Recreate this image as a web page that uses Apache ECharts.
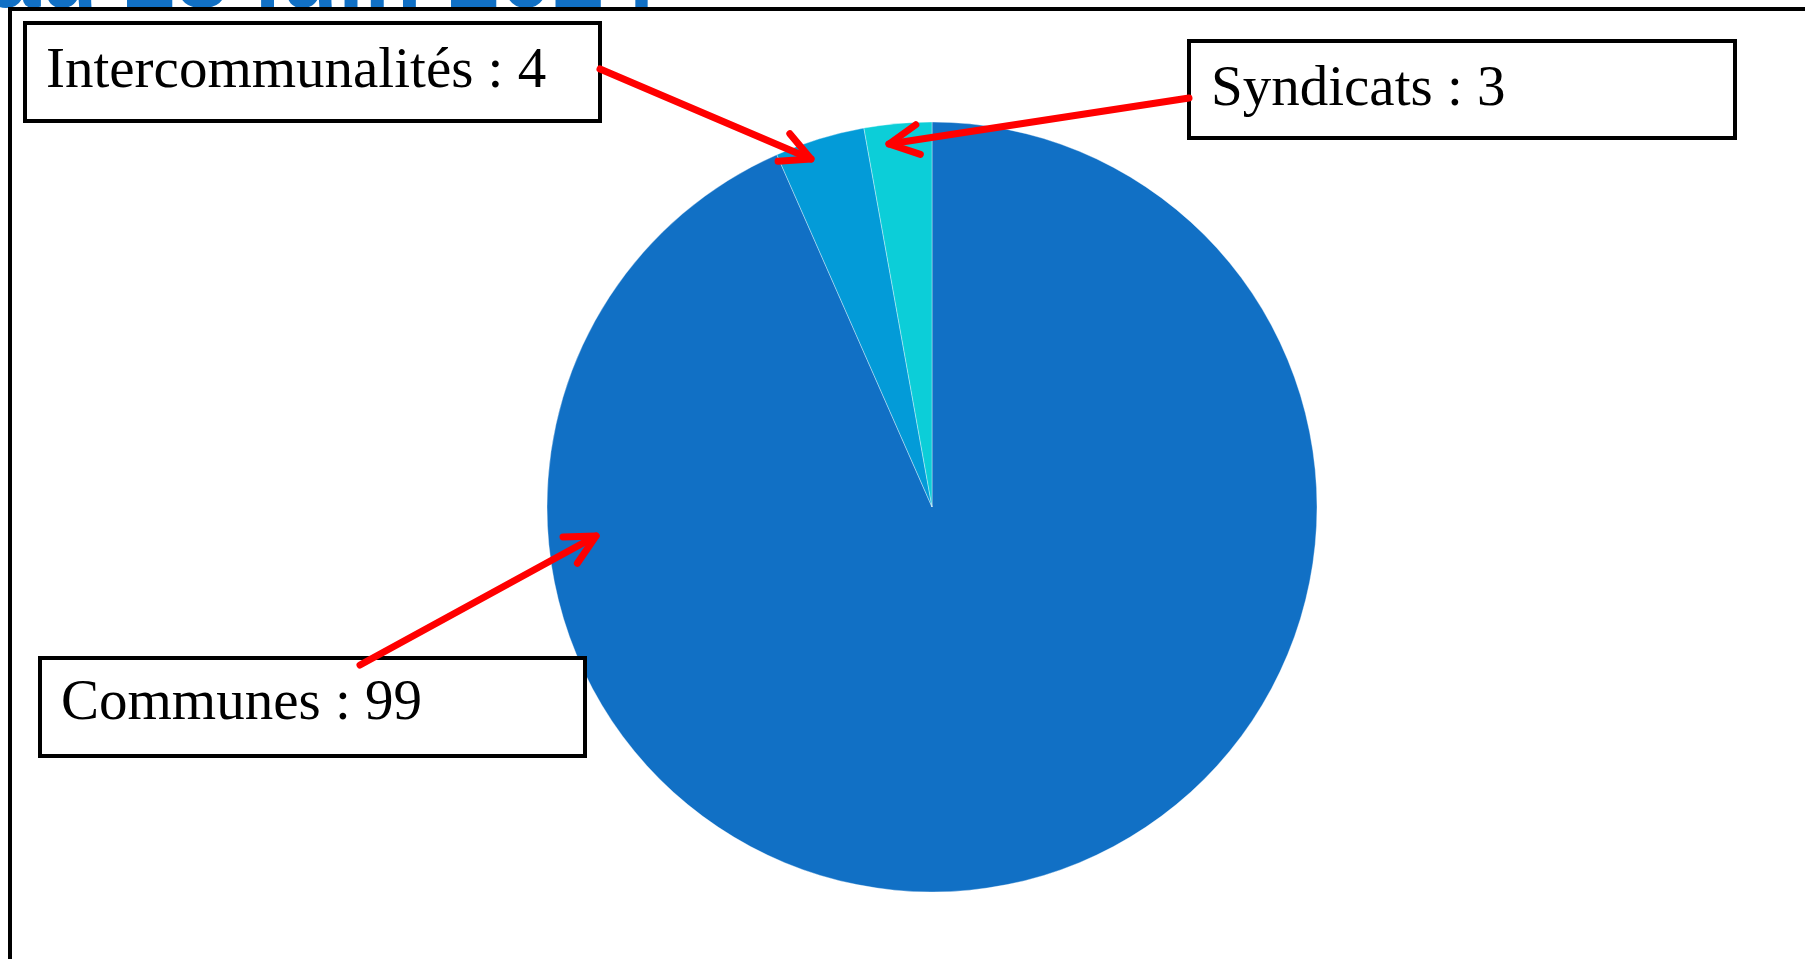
<!DOCTYPE html>
<html>
<head>
<meta charset="utf-8">
<script src="https://cdn.jsdelivr.net/npm/echarts@6/dist/echarts.min.js"></script>
<style>
html,body{margin:0;padding:0;background:#fff;}
#chart{width:1805px;height:959px;}
</style>
</head>
<body>
<div id="chart"></div>
<script>
// ---- data ----
const categories = ['Communes', 'Intercommunalités', 'Syndicats'];
const values = [99, 4, 3];
const sliceColors = ['#1170C5', '#039BD8', '#0CCED8'];
const titleText = 'au 28 juin 2024';

const chart = echarts.init(document.getElementById('chart'), null, {renderer: 'canvas'});

const serifFont = '"Liberation Serif", "DejaVu Serif", serif';
const labelSize = 57;

// callout layout: box rect, text anchor, arrow start, arrow tip
const callouts = [
  {i: 1, box: [25, 23, 575, 98], text: [46, 72], from: [600, 69], to: [811, 159]},
  {i: 2, box: [1189, 41, 546, 97], text: [1211, 90], from: [1189, 98], to: [889, 144]},
  {i: 0, box: [40, 658, 545, 98], text: [61, 704], from: [360, 665], to: [596, 536]}
];

function arrow(from, to) {
  const dx = to[0] - from[0], dy = to[1] - from[1];
  const ang = Math.atan2(dy, dx);
  const L = 33, spread = 27 * Math.PI / 180;
  const a1 = [to[0] - L * Math.cos(ang - spread), to[1] - L * Math.sin(ang - spread)];
  const a2 = [to[0] - L * Math.cos(ang + spread), to[1] - L * Math.sin(ang + spread)];
  const style = {stroke: '#FF0000', lineWidth: 7, lineCap: 'round', lineJoin: 'round', fill: null};
  return [
    {type: 'polyline', shape: {points: [from, to]}, style: style, z: 20},
    {type: 'polyline', shape: {points: [a1, to, a2]}, style: style, z: 20}
  ];
}

const graphics = [];
// title (cut off at top, hidden below the chart frame)
graphics.push({
  type: 'text', x: -12, y: -19,
  style: {text: titleText, fill: '#1170C5', font: 'bold 94px "Liberation Sans", Arial, sans-serif',
          textAlign: 'left', textVerticalAlign: 'middle'},
  z: 0
});
// white chart area covering the lower part of the title
graphics.push({
  type: 'rect', shape: {x: 10, y: 9, width: 2000, height: 1200},
  style: {fill: '#fff', stroke: null}, z: 1
});
// outer frame
graphics.push({
  type: 'rect', shape: {x: 10, y: 9, width: 2000, height: 1200},
  style: {fill: null, stroke: '#000', lineWidth: 4}, z: 9
});
callouts.forEach(c => {
  graphics.push({
    type: 'rect', shape: {x: c.box[0], y: c.box[1], width: c.box[2], height: c.box[3]},
    style: {fill: '#fff', stroke: '#000', lineWidth: 4}, z: 10
  });
  graphics.push({
    type: 'text', x: c.text[0], y: c.text[1],
    style: {text: categories[c.i] + ' : ' + values[c.i], fill: '#000',
            font: labelSize + 'px ' + serifFont, textAlign: 'left', textVerticalAlign: 'middle'},
    z: 11
  });
  arrow(c.from, c.to).forEach(g => graphics.push(g));
});

chart.setOption({
  animation: false,
  backgroundColor: '#fff',
  series: [{
    type: 'pie',
    z: 5,
    center: [932, 507],
    radius: 385,
    startAngle: 90,
    clockwise: true,
    label: {show: false},
    labelLine: {show: false},
    emphasis: {disabled: true},
    itemStyle: {borderColor: 'rgba(255,255,255,0.45)', borderWidth: 0.8},
    data: categories.map((n, k) => ({name: n, value: values[k], itemStyle: {color: sliceColors[k]}}))
  }],
  graphic: graphics
});
</script>
</body>
</html>
